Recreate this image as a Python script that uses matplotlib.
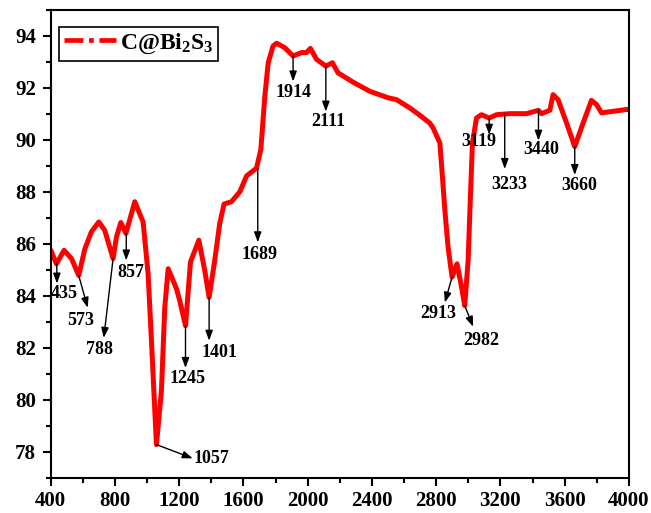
#!/usr/bin/env python3
"""
FTIR spectrum of C@Bi2S3 with labelled absorption bands.
Output: out.png
"""
import matplotlib
matplotlib.use("Agg")
import matplotlib.pyplot as plt
from matplotlib.lines import Line2D

# wavenumber (cm-1) and transmittance (%)
wavenumber = [400, 435, 483, 529, 574, 612, 653, 699, 736, 788, 809, 836, 868, 923,
              975, 1006, 1027, 1058, 1089, 1110, 1131, 1183, 1203, 1239, 1270, 1322,
              1359, 1386, 1421, 1452, 1479, 1525, 1577, 1619, 1681, 1708, 1733, 1754,
              1784, 1806, 1857, 1909, 1961, 1992, 2017, 2055, 2113, 2154, 2189, 2283,
              2387, 2501, 2553, 2636, 2698, 2760, 2781, 2823, 2839, 2854, 2874, 2899,
              2930, 2958, 2978, 2999, 3014, 3026, 3051, 3082, 3130, 3176, 3259, 3363,
              3437, 3456, 3508, 3528, 3559, 3612, 3663, 3715, 3767, 3799, 3830, 3902,
              3985, 4000]
transmittance = [85.75, 85.23, 85.75, 85.43, 84.78, 85.80, 86.46, 86.84, 86.52, 85.43,
                 86.26, 86.82, 86.40, 87.62, 86.84, 84.85, 82.27, 78.27, 80.33, 83.56,
                 85.04, 84.27, 83.81, 82.85, 85.30, 86.14, 84.97, 83.94, 85.36, 86.78,
                 87.53, 87.62, 88.00, 88.61, 88.91, 89.62, 91.68, 92.97, 93.61, 93.72,
                 93.55, 93.23, 93.36, 93.36, 93.52, 93.10, 92.84, 92.97, 92.58, 92.22,
                 91.87, 91.62, 91.55, 91.23, 90.95, 90.65, 90.46, 89.88, 88.58, 87.30,
                 85.88, 84.72, 85.23, 84.33, 83.62, 85.36, 87.94, 89.88, 90.84, 90.97,
                 90.84, 90.97, 91.01, 91.01, 91.14, 91.01, 91.14, 91.74, 91.55, 90.65,
                 89.74, 90.65, 91.52, 91.36, 91.04, 91.10, 91.17, 91.17]

# band labels: (text, arrow start on curve, arrow tip, label position)
peak_labels = ["435", "573", "788", "857", "1057", "1245", "1401", "1689", "1914",
               "2111", "2913", "2982", "3119", "3233", "3440", "3660"]
arrow_start = [(437, 85.23), (574, 84.78), (788, 85.43), (870, 86.40), (1058, 78.27),
               (1239, 82.85), (1386, 83.94), (1689, 88.90), (1909, 93.23), (2113, 92.84),
               (2899, 84.72), (2978, 83.62), (3130, 90.84), (3227, 91.00), (3437, 91.14),
               (3663, 89.74)]
arrow_end = [(439, 84.47), (630, 83.54), (730, 82.38), (870, 85.36), (1284, 77.74),
             (1239, 81.22), (1386, 82.27), (1689, 86.06), (1909, 92.25), (2113, 91.09),
             (2854, 83.74), (3030, 82.81), (3130, 90.20), (3227, 88.88), (3437, 89.97),
             (3663, 88.65)]
label_pos = [(487, 84.08), (587, 83.04), (705, 81.92), (898, 84.89), (1400, 77.74),
             (1253, 80.80), (1452, 81.80), (1702, 85.59), (1909, 91.83), (2131, 90.71),
             (2812, 83.32), (3082, 82.29), (3067, 89.94), (3254, 88.29), (3456, 89.62),
             (3690, 88.26)]

plt.rcParams["font.family"] = ["Liberation Serif", "DejaVu Serif"]
plt.rcParams["font.weight"] = "bold"
plt.rcParams["mathtext.fontset"] = "custom"
plt.rcParams["mathtext.rm"] = "Liberation Serif:bold"
plt.rcParams["mathtext.it"] = "Liberation Serif:bold"
plt.rcParams["mathtext.bf"] = "Liberation Serif:bold"

fig = plt.figure(figsize=(6.51, 5.13), dpi=100)
ax = fig.add_axes([0.078, 0.069, 0.888, 0.9115])

ax.plot(wavenumber, transmittance, color="red", linewidth=3.6,
        solid_joinstyle="round", solid_capstyle="round")

for txt, s, e, p in zip(peak_labels, arrow_start, arrow_end, label_pos):
    ax.annotate("", xy=e, xytext=s,
                arrowprops=dict(arrowstyle="-|>,head_length=0.6,head_width=0.22",
                                color="black", lw=1.0, shrinkA=0, shrinkB=0,
                                mutation_scale=10))
    ax.text(p[0], p[1], txt, ha="center", va="center", fontsize=13,
            fontweight="bold")

ax.set_xlim(400, 4000)
ax.set_ylim(77, 95)
ax.set_xticks(range(400, 4001, 400))
ax.set_xticks(range(600, 4000, 400), minor=True)
ax.set_yticks(range(78, 95, 2))
ax.set_yticks(range(77, 96, 2), minor=True)
ax.tick_params(which="major", direction="out", length=6, width=1.5, labelsize=15)
ax.tick_params(which="minor", direction="out", length=3.5, width=1.5)
ax.tick_params(axis="y", which="major", pad=4.5)
ax.tick_params(axis="x", which="major", pad=4)
for lab in ax.get_xticklabels() + ax.get_yticklabels():
    lab.set_fontweight("bold")
for sp in ax.spines.values():
    sp.set_linewidth(1.5)

handle = Line2D([], [], color="red", linewidth=3.4, linestyle=(0, (4, 1.2, 1, 1.2)))
leg = ax.legend([handle], [r"C@Bi$_2$S$_3$"], loc="upper left",
                bbox_to_anchor=(0.014, 0.964), borderaxespad=0, fancybox=False,
                framealpha=1, edgecolor="black", fontsize=17, handlelength=2.2,
                handletextpad=0.2, borderpad=0.2)
leg.get_frame().set_linewidth(1.2)

fig.savefig("out.png", dpi=100)
